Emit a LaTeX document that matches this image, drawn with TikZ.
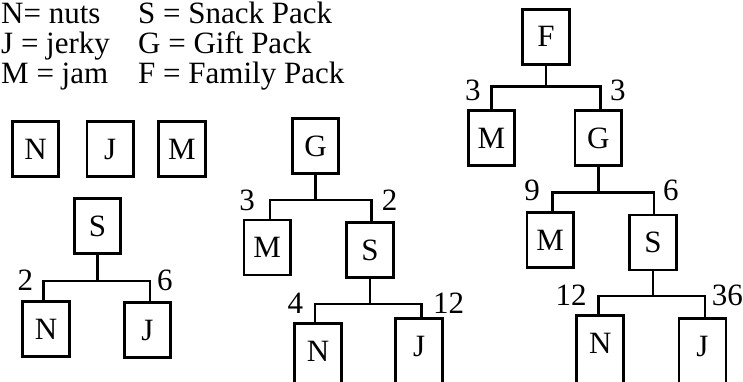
\documentclass[tikz,border=0pt]{standalone}
\usepackage{fontspec}
\setmainfont{Liberation Serif}
\begin{document}
\begin{tikzpicture}[x=1pt,y=-1pt,
  every node/.style={font=\fontsize{31}{31}\selectfont},
  pack/.style={draw,line width=2.7pt,minimum width=46.5pt,minimum height=55pt,inner sep=0pt},
  openpack/.style={minimum width=46.5pt,minimum height=55pt,inner sep=0pt},
  lbl/.style={inner sep=0pt},
  wire/.style={line width=2.7pt}]
\useasboundingbox (0,0) rectangle (743,381);
\clip (0,0) rectangle (743,381);
% legend
\node[lbl,anchor=base west] (l1) at (1,23) {N= nuts};
\node[lbl,anchor=base west] (l2) at (1,53) {J = jerky};
\node[lbl,anchor=base west] (l3) at (1,83) {M = jam};
\node[lbl,anchor=base west] (l4) at (138,23) {S = Snack Pack};
\node[lbl,anchor=base west] (l5) at (138,53) {G = Gift Pack};
\node[lbl,anchor=base west] (l6) at (138,83) {F = Family Pack};
% single items
\node[pack] (N0) at (35.5,149) {N};
\node[pack] (J0) at (110.2,149) {J};
\node[pack] (M0) at (181.9,149) {M};
% snack pack tree
\node[pack] (S1) at (97.5,226.3) {S};
\node[pack] (N1) at (46,329) {N};
\node[pack] (J1) at (147.5,330) {J};
\coordinate (a1) at (43.3,281);
\coordinate (b1) at (150,281);
\draw[wire] (S1.south) -- (S1.south |- a1);
\draw[wire] (a1 |- N1.north) -- (a1) -- (b1) -- (b1 |- J1.north);
\node[lbl,anchor=base east] (x1) at (33.3,290.5) {2};
\node[lbl,anchor=base west] (x2) at (157,290.5) {6};
% gift pack tree
\node[pack] (G2) at (315.5,146) {G};
\node[pack] (M2) at (267.2,247.5) {M};
\node[pack] (S2) at (370,250) {S};
\node[openpack] (N2) at (318,351.3) {N};
\node[openpack] (J2) at (419.2,346.3) {J};
\draw[wire] ([yshift=-20pt]N2.south west) -- (N2.north west) -- (N2.north east) -- ([yshift=-20pt]N2.south east);
\draw[wire] ([yshift=-20pt]J2.south west) -- (J2.north west) -- (J2.north east) -- ([yshift=-20pt]J2.south east);
\coordinate (a2) at (270,200);
\coordinate (b2) at (371.7,200);
\draw[wire] (G2.south) -- (G2.south |- a2);
\draw[wire] (a2 |- M2.north) -- (a2) -- (b2) -- (b2 |- S2.north);
\coordinate (c2) at (315,304);
\coordinate (d2) at (421.7,304);
\draw[wire] (S2.south) -- (S2.south |- c2);
\draw[wire] (c2 |- N2.north) -- (c2) -- (d2) -- (d2 |- J2.north);
\node[lbl,anchor=base east] (x3) at (255,210) {3};
\node[lbl,anchor=base west] (x4) at (381.7,210) {2};
\node[lbl,anchor=base east] (x5) at (303.3,313) {4};
\node[lbl,anchor=base west] (x6) at (433,313) {12};
% family pack tree
\node[pack] (F3) at (546,36.7) {F};
\node[pack] (M3) at (491.5,138.3) {M};
\node[pack] (G3) at (598.3,138.3) {G};
\node[pack] (M4) at (550.2,240) {M};
\node[pack] (S3) at (653,242.5) {S};
\node[openpack] (N3) at (600.2,343) {N};
\node[openpack] (J3) at (702.5,346.3) {J};
\draw[wire] ([yshift=-20pt]N3.south west) -- (N3.north west) -- (N3.north east) -- ([yshift=-20pt]N3.south east);
\draw[wire] ([yshift=-20pt]J3.south west) -- (J3.north west) -- (J3.north east) -- ([yshift=-20pt]J3.south east);
\coordinate (a3) at (491.7,86.7);
\coordinate (b3) at (600.7,86.7);
\draw[wire] (F3.south) -- (F3.south |- a3);
\draw[wire] (a3 |- M3.north) -- (a3) -- (b3) -- (b3 |- G3.north);
\coordinate (c3) at (552.3,192.7);
\coordinate (d3) at (654,192.7);
\draw[wire] (G3.south) -- (G3.south |- c3);
\draw[wire] (c3 |- M4.north) -- (c3) -- (d3) -- (d3 |- S3.north);
\coordinate (e3) at (598.3,296);
\coordinate (f3) at (705,296);
\draw[wire] (S3.south) -- (S3.south |- e3);
\draw[wire] (e3 |- N3.north) -- (e3) -- (f3) -- (f3 |- J3.north);
\node[lbl,anchor=base east] (x7) at (480.7,100) {3};
\node[lbl,anchor=base west] (x8) at (610,100) {3};
\node[lbl,anchor=base east] (x9) at (540,200) {9};
\node[lbl,anchor=base west] (x10) at (663,200) {6};
\node[lbl,anchor=base east] (x11) at (586.7,305) {12};
\node[lbl,anchor=base west] (x12) at (711.7,305) {36};
\end{tikzpicture}
\end{document}
